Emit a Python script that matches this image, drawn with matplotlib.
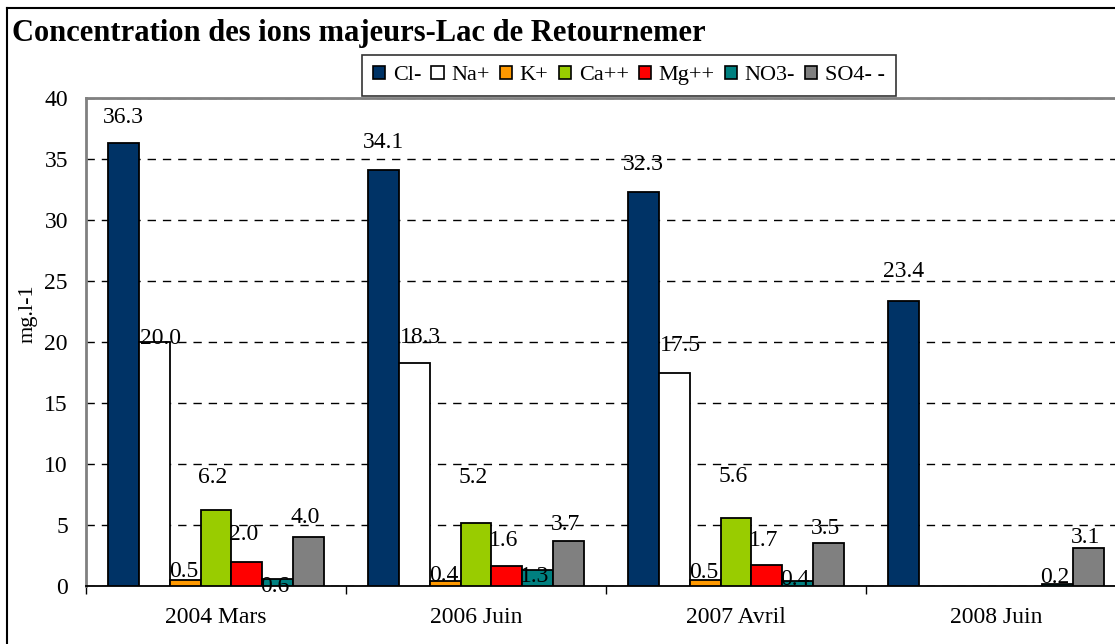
import numpy as np
import matplotlib
matplotlib.use('Agg')
import matplotlib.pyplot as plt
from matplotlib.patches import Patch
from matplotlib.lines import Line2D

# données
periodes = ['2004 Mars', '2006 Juin', '2007 Avril', '2008 Juin']
ions = ['Cl-', 'Na+', 'K+', 'Ca++', 'Mg++', 'NO3-', 'SO4- -']
cl = [36.3, 34.1, 32.3, 23.4]
na = [20.0, 18.3, 17.5, np.nan]
k = [0.5, 0.4, 0.5, np.nan]
ca = [6.2, 5.2, 5.6, np.nan]
mg = [2.0, 1.6, 1.7, np.nan]
no3 = [0.6, 1.3, 0.4, 0.2]
so4 = [4.0, 3.7, 3.5, 3.1]
series = [cl, na, k, ca, mg, no3, so4]

couleurs = ['#003366', '#FFFFFF', '#FF9900', '#99CC00', '#FF0000', '#008080', '#808080']

# décalage vertical des étiquettes (pixels, vers le haut), comme dans l'original
decal_y = [[26, 27, 27, 29],
           [4, 25, 27, 0],
           [8, 6, 7, 0],
           [33, 45, 41, 0],
           [27, 26, 25, 0],
           [-8, -6, 2, 6],
           [20, 16, 15, 11]]
decal_x = [0, 6, -1, -3, -3, -3, -3]

plt.rcParams['font.family'] = ['Liberation Serif', 'DejaVu Serif']

W, H = 1115, 644
fig = plt.figure(figsize=(W / 100, H / 100), dpi=100)
ax = fig.add_axes([86 / W, 1 - 586 / H, 1040 / W, 488 / H])

x = np.arange(len(periodes))
w = 0.1185
for j, vals in enumerate(series):
    pos = x + (j - 3) * w
    ax.bar(pos, vals, w, color=couleurs[j], edgecolor='black', linewidth=1.3, zorder=3)
    for i, v in enumerate(vals):
        if np.isnan(v):
            continue
        ax.annotate('%.1f' % v, (pos[i], v), xytext=(decal_x[j], decal_y[j][i]),
                    textcoords='offset pixels', ha='center', va='center',
                    fontsize=17, zorder=5)

ax.set_xlim(-0.5, 3.5)
ax.set_ylim(0, 40)
ax.set_yticks(range(0, 41, 5))
ax.set_xticks(x)
ax.set_xticklabels(periodes, fontsize=17)
ax.set_xticks(np.arange(-0.5, 4, 1), minor=True)
ax.tick_params(axis='x', which='major', length=0, pad=15)
ax.tick_params(axis='x', which='minor', length=6, width=1, direction='out')
ax.tick_params(axis='y', length=0, pad=13, labelsize=17)
ax.yaxis.grid(True, linestyle=(0, (6, 5)), color='black', linewidth=1)
ax.set_axisbelow(True)
for s in ['top', 'left', 'right']:
    ax.spines[s].set_color('#808080')
    ax.spines[s].set_linewidth(2)
ax.spines['bottom'].set_color('black')
ax.spines['bottom'].set_linewidth(1.3)
ax.set_ylabel('mg.l-1', fontsize=16)
ax.yaxis.set_label_coords(-0.047, 0.557)

# titre et cadre
fig.text(12 / W, 1 - 33 / H, 'Concentration des ions majeurs-Lac de Retournemer',
         fontsize=22, fontweight='bold', va='center', ha='left')
fig.add_artist(Line2D([7 / W, 7 / W], [0, 1 - 8 / H], color='black', linewidth=1.5))
fig.add_artist(Line2D([7 / W, 1], [1 - 8 / H, 1 - 8 / H], color='black', linewidth=1.5))

handles = [Patch(facecolor=c, edgecolor='black', linewidth=1.2) for c in couleurs]
leg = fig.legend(handles, ions, loc='center', bbox_to_anchor=(629 / W, 1 - 75.5 / H),
                 ncol=7, frameon=True, fancybox=False, edgecolor='black', fontsize=16,
                 handlelength=0.55, handleheight=0.55, handletextpad=0.35,
                 columnspacing=0.45, borderpad=0.5, borderaxespad=0)
leg.get_frame().set_linewidth(1.2)

fig.savefig('out.png', dpi=100)
